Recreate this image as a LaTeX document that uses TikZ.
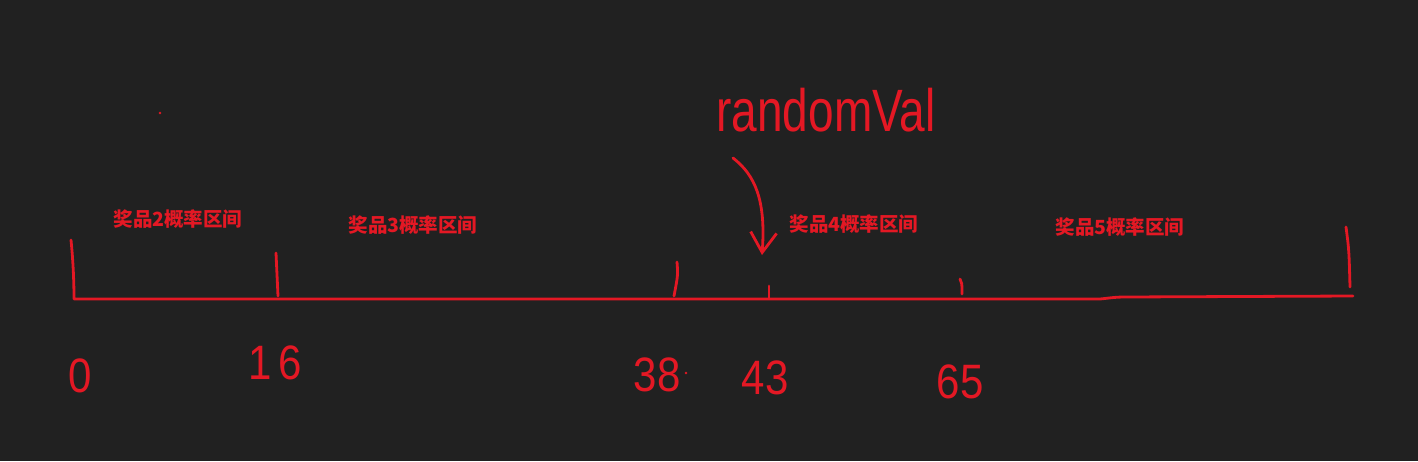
\documentclass[tikz,border=0pt]{standalone}
\usepackage{fontspec}
\setmainfont{Liberation Sans}
\newfontfamily\cjk{Noto Sans CJK SC}
\usetikzlibrary{arrows.meta}
\definecolor{bg}{RGB}{33,33,33}
\definecolor{pen}{RGB}{228,24,36}
\tikzset{
  ink/.style={draw=pen, line width=2.8pt, line cap=round, line join=round},
  lbl/.style={text=pen, font=\cjk\bfseries\fontsize{19.5}{22}\selectfont, inner sep=0pt},
  num/.style={text=pen, font=\fontsize{42}{46}\selectfont, inner sep=0pt, yscale=1.15},
}
\begin{document}
\begin{tikzpicture}[x=1pt,y=-1pt]
\fill[bg] (0,0) rectangle (1418,461);
\useasboundingbox (0,0) rectangle (1418,461);

% axis
\coordinate (a0top) at (71,240);
\coordinate (a0) at (74,299);
\coordinate (aend) at (1353,296);
\draw[ink] (a0top) .. controls (73,260) and (74,280) .. (a0) -- (1100,299) .. controls (1110,298) and (1115,297) .. (1125,297) -- (aend);

% ticks
\coordinate (t16a) at (276,253); \coordinate (t16b) at (278,296);
\coordinate (t38a) at (677,262); \coordinate (t38b) at (674,296);
\coordinate (t43a) at (769,286); \coordinate (t43b) at (769,298);
\coordinate (t65a) at (960,279); \coordinate (t65b) at (962,294);
\coordinate (tenda) at (1346,227); \coordinate (tendb) at (1350,287);
\draw[ink] (t16a) -- (t16b);
\draw[ink] (t38a) .. controls (678,275) .. (t38b);
\draw[ink] (t43a) -- (t43b);
\draw[ink] (t65a) .. controls (962,283) .. (t65b);
\draw[ink] (tenda) .. controls (1349,250) .. (tendb);

% labels
\node[lbl] (l2) at (178,219) {奖品2概率区间};
\node[lbl] (l3) at (413,225) {奖品3概率区间};
\node[lbl] (l4) at (854,224) {奖品4概率区间};
\node[lbl] (l5) at (1120,227) {奖品5概率区间};

% numbers
\node[num] (n0) at (80,376) {0};
\node[num] (n16) at (275,363) {1\,6};
\node[num] (n38) at (657,375) {38};
\node[num] (n43) at (765,378) {43};
\node[num] (n65) at (960,382) {65};
\fill[pen] (686,373) circle (1.4);
\fill[pen] (160,113) circle (1.4);

% randomVal
\node[text=pen, font=\fontsize{46}{50}\selectfont, inner sep=0pt, yscale=1.3] (rv) at (826,110) {randomVal};
\coordinate (arrS) at (733,158);
\coordinate (arrE) at (762,255);
\draw[ink, -{Straight Barb[length=20pt,width=26pt]}] (arrS) .. controls (755,175) and (766,200) .. (arrE);
\end{tikzpicture}
\end{document}
